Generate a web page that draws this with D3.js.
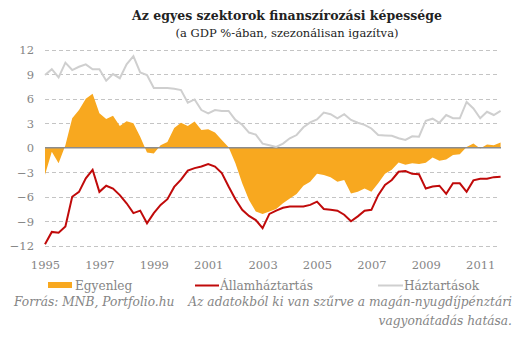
<!DOCTYPE html>
<html>
<head>
<meta charset="utf-8">
<script src="https://cdn.jsdelivr.net/npm/d3@7"></script>
<style>
  body { margin: 0; background: #fff; }
  text { font-family: "DejaVu Serif", "Liberation Serif", serif; }
</style>
</head>
<body>
<div id="chart-area"></div>
<script>
var outerWidth = 530;
var outerHeight = 341;

// quarterly data, 1995 Q1 .. 2011 Q4 (% of GDP)
var startYear = 1995;
var egyenleg = [-3.3, -0.5, -1.9, 0.3, 3.6, 4.6, 6.0, 6.6, 4.2, 3.5, 3.9, 2.65, 3.25, 3.0, 1.35, -0.6,
                -0.7, 0.3, 0.7, 2.4, 3.05, 2.65, 3.2, 2.15, 2.25, 1.85, 0.95, 0.05, -1.9, -4.35, -6.4, -7.8,
                -8.1, -7.8, -7.5, -6.8, -6.2, -5.65, -4.65, -4.15, -3.2, -3.35, -3.6, -4.15, -3.95, -5.6, -5.4, -5.0,
                -5.4, -4.35, -3.2, -2.7, -1.8, -2.1, -1.9, -2.0, -1.85, -1.2, -1.6, -1.45, -0.9, -0.8, 0.1, 0.5,
                -0.1, 0.4, 0.3, 0.65];
var allamhaztartas = [-11.8, -10.3, -10.4, -9.65, -6.0, -5.4, -3.75, -2.7, -5.4, -4.65, -5.0, -5.8, -6.8, -8.0, -7.7, -9.25,
                      -8.0, -7.0, -6.3, -4.8, -3.9, -2.8, -2.5, -2.3, -2.0, -2.3, -3.1, -4.75, -6.3, -7.6, -8.35, -8.85,
                      -9.85, -8.1, -7.7, -7.35, -7.2, -7.2, -7.2, -7.0, -6.6, -7.5, -7.6, -7.7, -8.2, -9.0, -8.4, -7.7,
                      -7.6, -5.8, -4.55, -3.95, -2.95, -2.85, -3.2, -3.25, -5.0, -4.75, -4.65, -5.65, -4.35, -4.35, -5.4, -4.0,
                      -3.8, -3.8, -3.6, -3.55];
var haztartasok = [8.9, 9.6, 8.6, 10.4, 9.5, 9.9, 10.2, 9.6, 9.6, 8.2, 9.0, 8.5, 10.2, 11.2, 9.2, 8.9,
                   7.3, 7.3, 7.3, 7.2, 7.05, 5.5, 5.9, 4.6, 4.2, 4.6, 4.5, 4.5, 3.4, 2.8, 1.85, 1.6,
                   0.5, 0.3, 0.1, 0.5, 1.15, 1.55, 2.5, 3.1, 3.45, 4.3, 4.1, 3.6, 4.1, 3.4, 3.05, 2.8,
                   2.35, 1.55, 1.5, 1.45, 1.15, 0.95, 1.4, 1.35, 3.3, 3.55, 3.05, 4.0, 3.6, 3.6, 5.6, 4.8,
                   3.6, 4.4, 4.0, 4.5];
var yTicks = [-12, -9, -6, -3, 0, 3, 6, 9, 12];
var xTicks = [1995, 1997, 1999, 2001, 2003, 2005, 2007, 2009, 2011];
var legendLabels = ['Egyenleg', 'Államháztartás', 'Háztartások'];

var colOrange = '#f8a81f';
var colRed = '#c00a0a';
var colGray = '#cfcfcf';
var colText = '#858585';

var svg = d3.select('#chart-area').append('svg')
            .attr('width', outerWidth)
            .attr('height', outerHeight);

// shrink/grow a text so it gets a given width
function fitWidth(sel, target) {
  var size = parseFloat(sel.attr('font-size'));
  var w = sel.node().getComputedTextLength();
  sel.attr('font-size', (size * target / w).toFixed(2) + 'px');
  return sel;
}

// scales
var xScale = d3.scaleLinear()
               .domain([startYear, startYear + 16])
               .range([45, 480.2]);
var yScale = d3.scaleLinear()
               .domain([-12, 12])
               .range([245.8, 49.6]);

function xq(i) { return xScale(startYear + i / 4); }

// title
var title = svg.append('text')
   .attr('x', 287).attr('y', 20)
   .attr('text-anchor', 'middle')
   .attr('font-size', '13px')
   .attr('font-weight', 'bold')
   .attr('fill', '#222')
   .text('Az egyes szektorok finanszírozási képessége');
fitWidth(title, 310);
var subtitle = svg.append('text')
   .attr('x', 287).attr('y', 37)
   .attr('text-anchor', 'middle')
   .attr('font-size', '12px')
   .attr('fill', '#222')
   .text('(a GDP %-ában, szezonálisan igazítva)');
fitWidth(subtitle, 223);

// grid lines
var grid = svg.append('g');
grid.selectAll('line')
    .data(yTicks.filter(function(d){ return d !== 0; }))
    .enter().append('line')
    .attr('x1', 45).attr('x2', 498)
    .attr('y1', function(d){ return Math.round(yScale(d)) + 0.5; })
    .attr('y2', function(d){ return Math.round(yScale(d)) + 0.5; })
    .attr('stroke', '#c4c4c4')
    .attr('stroke-width', 1)
    .attr('stroke-dasharray', '4,3');

// y axis labels
var yAxis = d3.axisLeft(yScale).tickValues(yTicks).tickSize(0).tickPadding(0);
var yAxisG = svg.append('g')
                .attr('transform', 'translate(34,0)')
                .call(yAxis);
yAxisG.select('.domain').remove();
yAxisG.selectAll('text')
      .attr('font-family', '"DejaVu Serif", serif')
      .attr('font-size', '11.5px')
      .attr('fill', colText)
      .attr('dy', '0.35em');

// x axis labels
var xAxis = d3.axisBottom(xScale).tickValues(xTicks).tickFormat(d3.format('d')).tickSize(0).tickPadding(0);
var xAxisG = svg.append('g')
                .attr('transform', 'translate(0,261)')
                .call(xAxis);
xAxisG.select('.domain').remove();
xAxisG.selectAll('text')
      .attr('font-family', '"DejaVu Serif", serif')
      .attr('font-size', '11.5px')
      .attr('fill', colText);

// balance area
var area = d3.area()
             .x(function(d, i){ return xq(i); })
             .y0(yScale(0))
             .y1(function(d){ return yScale(d); });
svg.append('path')
   .attr('d', area(egyenleg))
   .attr('fill', colOrange);

// zero line
svg.append('line')
   .attr('x1', 45).attr('x2', 501)
   .attr('y1', yScale(0)).attr('y2', yScale(0))
   .attr('stroke', '#8c8c8c')
   .attr('stroke-width', 1.5);

var line = d3.line()
             .x(function(d, i){ return xq(i); })
             .y(function(d){ return yScale(d); });

svg.append('path')
   .attr('d', line(haztartasok))
   .attr('fill', 'none')
   .attr('stroke', colGray)
   .attr('stroke-width', 2);

svg.append('path')
   .attr('d', line(allamhaztartas))
   .attr('fill', 'none')
   .attr('stroke', colRed)
   .attr('stroke-width', 2);

// legend
var leg = svg.append('g');
leg.append('rect')
   .attr('x', 48).attr('y', 282).attr('width', 24).attr('height', 6)
   .attr('fill', colOrange);
var l1 = leg.append('text')
   .attr('x', 75).attr('y', 290)
   .attr('font-size', '13px').attr('fill', colText)
   .text(legendLabels[0]);
leg.append('line')
   .attr('x1', 195).attr('x2', 219).attr('y1', 285.5).attr('y2', 285.5)
   .attr('stroke', colRed).attr('stroke-width', 2);
var l2 = leg.append('text')
   .attr('x', 220).attr('y', 290)
   .attr('font-size', '13px').attr('fill', colText)
   .text(legendLabels[1]);
fitWidth(l2, 93);
l1.attr('font-size', l2.attr('font-size'));
leg.append('line')
   .attr('x1', 378).attr('x2', 403).attr('y1', 285.5).attr('y2', 285.5)
   .attr('stroke', colGray).attr('stroke-width', 2);
leg.append('text')
   .attr('x', 404).attr('y', 290)
   .attr('font-size', l2.attr('font-size')).attr('fill', colText)
   .text(legendLabels[2]);

// footer
svg.append('text')
   .attr('x', 14).attr('y', 306)
   .attr('font-size', '12px').attr('font-style', 'italic').attr('fill', colText)
   .text('Forrás: MNB, Portfolio.hu');
var note = svg.append('text')
   .attr('x', 512).attr('y', 306)
   .attr('text-anchor', 'end')
   .attr('font-size', '12px').attr('font-style', 'italic').attr('fill', colText)
   .text('Az adatokból ki van szűrve a magán-nyugdíjpénztári');
fitWidth(note, 324);
svg.select('text[x="14"]').attr('font-size', note.attr('font-size'));
svg.append('text')
   .attr('x', 512).attr('y', 325)
   .attr('text-anchor', 'end')
   .attr('font-size', note.attr('font-size')).attr('font-style', 'italic').attr('fill', colText)
   .text('vagyonátadás hatása.');
</script>
</body>
</html>
